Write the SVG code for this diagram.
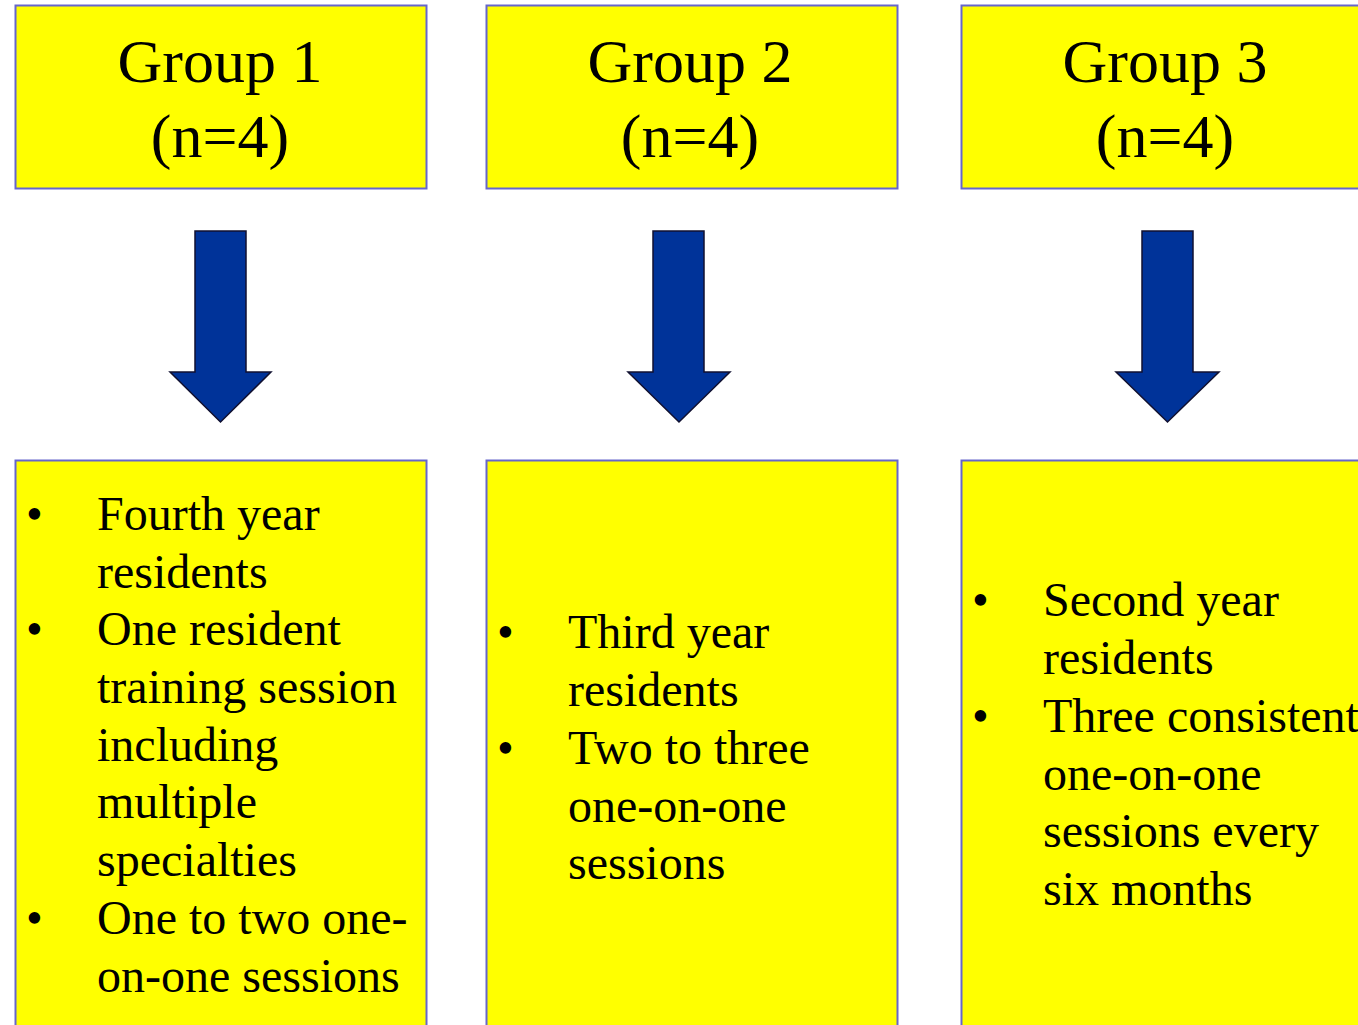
<svg xmlns="http://www.w3.org/2000/svg" width="1358" height="1025" viewBox="0 0 1358 1025">
<style>
.box{fill:#ffff00;stroke:#6666cc;stroke-width:2}
.arrow{fill:#003399;stroke:#101030;stroke-width:1.5}
.hd{font-size:62px;fill:#000;text-anchor:middle}
.bt{font-size:48px;fill:#000}
</style>
<rect width="1358" height="1025" fill="#fff"/>
<g font-family="Liberation Serif, Times New Roman, serif">
<g id="group1">
<rect class="box" x="15.5" y="5.5" width="411" height="183"/>
<text class="hd" x="220" y="82">Group 1</text>
<text class="hd" x="220" y="157">(n=4)</text>
</g>
<g id="group2">
<rect class="box" x="486.5" y="5.5" width="411" height="183"/>
<text class="hd" x="690" y="82">Group 2</text>
<text class="hd" x="690" y="157">(n=4)</text>
</g>
<g id="group3">
<rect class="box" x="961.5" y="5.5" width="411" height="183"/>
<text class="hd" x="1165" y="82">Group 3</text>
<text class="hd" x="1165" y="157">(n=4)</text>
</g>
<g id="connectors">
<path class="arrow" d="M195,231 H246 V372 H271 L220.5,422 L170,372 H195 Z"/>
<path class="arrow" d="M653,231 H704 V372 H730 L679,422 L628,372 H653 Z"/>
<path class="arrow" d="M1142,231 H1193 V372 H1219 L1167.5,422 L1116,372 H1142 Z"/>
</g>
<g id="detail1">
<rect class="box" x="15.5" y="460.5" width="411" height="580"/>
<g class="bt">
<text x="26" y="530">•</text>
<text x="97" y="530">Fourth year</text>
<text x="97" y="588">residents</text>
<text x="26" y="645">•</text>
<text x="97" y="645">One resident</text>
<text x="97" y="703">training session</text>
<text x="97" y="761">including</text>
<text x="97" y="818">multiple</text>
<text x="97" y="876">specialties</text>
<text x="26" y="934">•</text>
<text x="97" y="934">One to two one-</text>
<text x="97" y="992">on-one sessions</text>
</g>
</g>
<g id="detail2">
<rect class="box" x="486.5" y="460.5" width="411" height="580"/>
<g class="bt">
<text x="497" y="648">•</text>
<text x="568" y="648">Third year</text>
<text x="568" y="706">residents</text>
<text x="497" y="764">•</text>
<text x="568" y="764">Two to three</text>
<text x="568" y="822">one-on-one</text>
<text x="568" y="879">sessions</text>
</g>
</g>
<g id="detail3">
<rect class="box" x="961.5" y="460.5" width="411" height="580"/>
<g class="bt">
<text x="972" y="616">•</text>
<text x="1043" y="616">Second year</text>
<text x="1043" y="674">residents</text>
<text x="972" y="732">•</text>
<text x="1043" y="732">Three consistent</text>
<text x="1043" y="790">one-on-one</text>
<text x="1043" y="847">sessions every</text>
<text x="1043" y="905">six months</text>
</g>
</g>
</g>
</svg>
